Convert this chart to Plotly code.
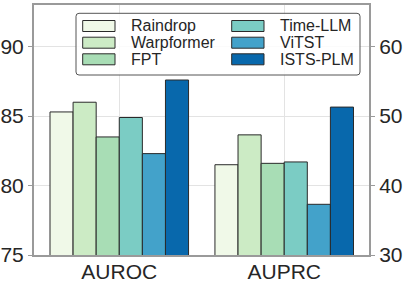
import plotly.graph_objects as go

# ---- data ----
methods = ["Raindrop", "Warpformer", "FPT", "Time-LLM", "ViTST", "ISTS-PLM"]
metrics = ["AUROC", "AUPRC"]
auroc = [85.3, 86.0, 83.5, 84.9, 82.3, 87.6]
auprc = [43.0, 47.3, 43.2, 43.4, 37.3, 51.3]
colors = ["#f0f9e8", "#ccebc5", "#a8ddb5", "#7bccc4", "#43a2ca", "#0868ac"]
left_ticks = [75, 80, 85, 90]
right_ticks = [30, 40, 50, 60]

W, H = 403, 285
PL, PR, PT, PB = 34, 369, 5, 255
FONT = "Liberation Sans, Arial, sans-serif"
TXT = "#262626"
SPINE = "#9a9a9a"

n = len(methods)
bw = 0.14
fig = go.Figure()
for i, m in enumerate(methods):
    off = -bw * n / 2 + i * bw
    fig.add_trace(go.Bar(x=[0], y=[auroc[i]], name=m, width=bw, offset=off,
                         marker=dict(color=colors[i], line=dict(color="#2a2a2a", width=1)),
                         yaxis="y", showlegend=False))
    fig.add_trace(go.Bar(x=[1], y=[auprc[i]], name=m, width=bw, offset=off,
                         marker=dict(color=colors[i], line=dict(color="#2a2a2a", width=1)),
                         yaxis="y2", showlegend=False))


def px(x):
    return (x - PL) / (PR - PL)


def py(y):
    return (PB - y) / (PB - PT)


# manual legend (matplotlib-like, 2 columns)
shapes = []
annotations = []
x0, x1, y0, y1, r = 76, 360, 13.3, 75, 3
path = (f"M{px(x0 + r)},{py(y0)} L{px(x1 - r)},{py(y0)} Q{px(x1)},{py(y0)} {px(x1)},{py(y0 + r)} "
        f"L{px(x1)},{py(y1 - r)} Q{px(x1)},{py(y1)} {px(x1 - r)},{py(y1)} "
        f"L{px(x0 + r)},{py(y1)} Q{px(x0)},{py(y1)} {px(x0)},{py(y1 - r)} "
        f"L{px(x0)},{py(y0 + r)} Q{px(x0)},{py(y0)} {px(x0 + r)},{py(y0)} Z")
shapes.append(dict(type="path", path=path, xref="paper", yref="paper",
                   fillcolor="rgba(255,255,255,0.85)", line=dict(color="#555555", width=1), layer="above"))
col_sw = [82.7, 231.7]
col_tx = [129.3, 278.3]
rows = [26, 42.7, 59.3]
for i, m in enumerate(methods):
    c, rw = divmod(i, 3)
    yc = rows[rw]
    shapes.append(dict(type="rect", xref="paper", yref="paper",
                       x0=px(col_sw[c]), x1=px(col_sw[c] + 32.3), y0=py(yc - 5.5), y1=py(yc + 5.5),
                       fillcolor=colors[i], line=dict(color="#2a2a2a", width=1), layer="above"))
    annotations.append(dict(text=m, xref="paper", yref="paper", x=px(col_tx[c]), y=py(yc),
                            xanchor="left", yanchor="middle", showarrow=False,
                            font=dict(size=16, color=TXT, family=FONT)))

fig.update_layout(
    width=W, height=H,
    margin=dict(l=PL, r=W - PR, t=PT, b=H - PB, autoexpand=False),
    paper_bgcolor="white", plot_bgcolor="white",
    font=dict(family=FONT, color=TXT),
    barmode="overlay",
    shapes=shapes, annotations=annotations,
    xaxis=dict(range=[-0.517, 1.514], tickvals=[0, 1], ticktext=metrics,
               tickfont=dict(size=21, color=TXT), showgrid=True, gridcolor="#e3e3e3",
               gridwidth=1, showline=True, linecolor=SPINE, linewidth=2, mirror=True,
               ticks="", zeroline=False, fixedrange=True, ticklabelstandoff=-3),
    yaxis=dict(range=[75, 93], tickvals=left_ticks, tickfont=dict(size=21, color=TXT),
               showgrid=True, gridcolor="#e3e3e3", gridwidth=1, showline=True,
               linecolor=SPINE, linewidth=2, ticks="outside", ticklen=4, tickcolor=SPINE,
               zeroline=False),
    yaxis2=dict(range=[30, 66], tickvals=right_ticks, tickfont=dict(size=21, color=TXT),
                overlaying="y", side="right", showgrid=False, showline=True,
                linecolor=SPINE, linewidth=2, ticks="outside", ticklen=4, tickcolor=SPINE,
                zeroline=False),
)

fig.write_html("out.html", config={"displayModeBar": False},
               post_script="document.body.style.margin='0';document.body.style.overflow='hidden';")
